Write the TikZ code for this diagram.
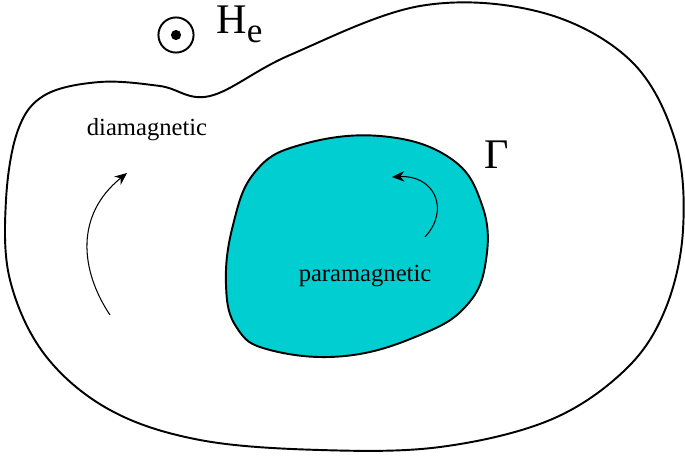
\documentclass[tikz,border=0pt]{standalone}
\usepackage{fontspec}
\setmainfont{Liberation Serif}
\usetikzlibrary{arrows.meta}

\begin{document}
\begin{tikzpicture}[
    x=0.02cm,
    y=-0.02cm,
    region/.style={
        line width=1.1pt,
        draw=black
    },
    label/.style={
        font=\fontsize{14}{16}\selectfont,
        inner sep=0pt
    },
    bigsym/.style={
        font=\fontsize{24}{28}\selectfont,
        inner sep=0pt
    },
    arrow/.style={
        line width=0.6pt,
        -{Stealth[length=7pt,width=6pt]}
    }
]
\useasboundingbox (0,0) rectangle (685,456);
% OUTER BODY
\draw [region] plot[smooth cycle, tension=0.6] coordinates {
    (210,96) (290,55) (420,6) (540,12) (630,60) (675,140) (683,230)
    (665,310) (625,370) (550,420) (440,447) (320,450) (200,440)
    (110,410) (45,355) (10,280) (6,200) (18,130) (45,95) (100,82) (160,86)};
% PARAMAGNETIC INCLUSION
\draw [region, fill={rgb,255:red,0;green,206;blue,209}] plot[smooth cycle, tension=0.7] coordinates {
    (300,145) (380,136) (450,158) (482,205) (486,260) (467,305)
    (420,335) (345,356) (270,350) (237,328) (226,285) (233,225) (255,172)};
% FIELD SYMBOL
\node (field) [circle, draw=black, line width=1.1pt, minimum size=20pt, inner sep=0pt] at (176,35) {};
\fill (field.center) circle (2.9pt);
\node (he) [bigsym, anchor=west] at (216,24) {H\raisebox{-5pt}{\fontsize{20}{24}\selectfont e}};
\node (gamma) [bigsym] at (497,155) {Γ};
% LABELS
\node (dia) [label] at (147,130) {diamagnetic};
\node (para) [label] at (365,276) {paramagnetic};
% CURRENT ARROWS
\coordinate (dstart) at (110,315);
\coordinate (dend) at (127,173);
\coordinate (pstart) at (425,237);
\coordinate (pend) at (392,177);
\draw [arrow] (dstart) .. controls (80,270) and (75,215) .. (dend);
\draw [arrow] (pstart) .. controls (450,210) and (435,175) .. (pend);
\end{tikzpicture}
\end{document}
